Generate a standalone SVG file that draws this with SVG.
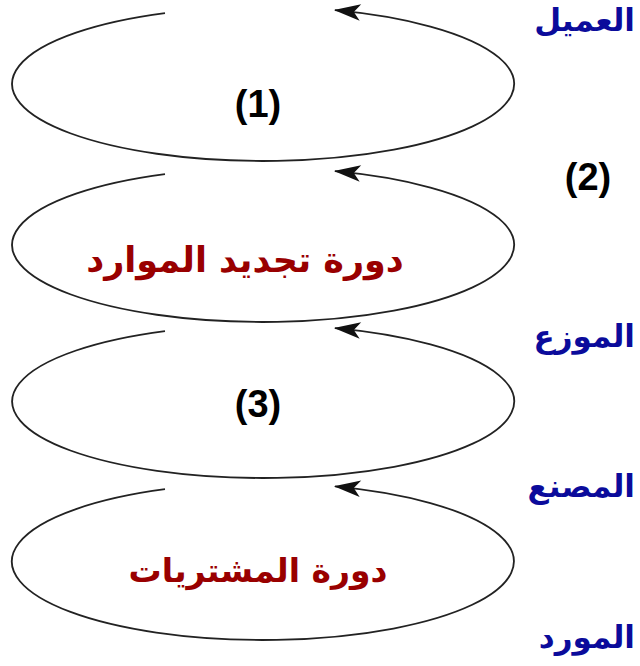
<svg xmlns="http://www.w3.org/2000/svg" width="640" height="666" viewBox="0 0 640 666">
<style>
.loop{fill:none;stroke:#222;stroke-width:1.8}
.num{font-family:"Liberation Sans",Arial,sans-serif;font-weight:bold;font-size:38px;fill:#000;text-anchor:middle}
.role{font-family:"DejaVu Sans","Noto Sans",sans-serif;font-weight:bold;font-size:31px;fill:#0b0b9b;text-anchor:end}
.cyc{font-family:"DejaVu Sans","Noto Sans",sans-serif;font-weight:bold;font-size:35px;fill:#990000;text-anchor:middle}
</style>
<defs>
<marker id="arr" markerUnits="userSpaceOnUse" markerWidth="30" markerHeight="20" viewBox="-25 -9 27 18" refX="0" refY="0" orient="auto">
<path d="M1,0 L-23,-7.5 L-17,0 L-23,7.5 Z" fill="#111"/>
</marker>
</defs>
<g id="connectors">
<path id="loop1" class="loop" marker-end="url(#arr)" d="M165,13.1 A251,77 0 1 0 335,10.2"/>
<path id="loop2" class="loop" marker-end="url(#arr)" d="M165,174.1 A251,77 0 1 0 335,171.2"/>
<path id="loop3" class="loop" marker-end="url(#arr)" d="M165,331.1 A251,76.5 0 1 0 335,328.2"/>
<path id="loop4" class="loop" marker-end="url(#arr)" d="M165,489.2 A251,78.5 0 1 0 335,486.3"/>
</g>
<g id="n1"><text class="num" x="258" y="117">(1)</text></g>
<g id="n2"><text class="num" x="588" y="190">(2)</text></g>
<g id="n3"><text class="num" x="258" y="417">(3)</text></g>
<g id="cycle-renewal"><text class="cyc" x="245" y="272">دورة تجديد الموارد</text></g>
<g id="cycle-purchase"><text class="cyc" x="258" y="582" style="font-size:33px">دورة المشتريات</text></g>
<g id="customer"><text class="role" x="635" y="31">العميل</text></g>
<g id="distributor"><text class="role" x="635" y="347">الموزع</text></g>
<g id="factory"><text class="role" x="635" y="497">المصنع</text></g>
<g id="supplier"><text class="role" x="635" y="648">المورد</text></g>
</svg>
